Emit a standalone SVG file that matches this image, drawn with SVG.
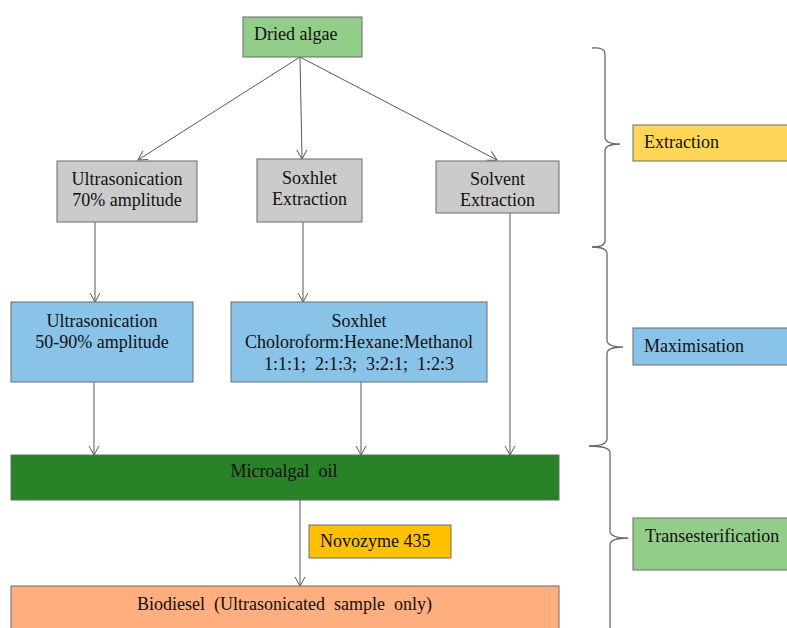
<svg xmlns="http://www.w3.org/2000/svg" width="787" height="628" viewBox="0 0 787 628">
<defs>
<marker id="arr" markerWidth="12" markerHeight="12" refX="10" refY="6" orient="auto" markerUnits="userSpaceOnUse">
<path d="M1,1 L10,6 L1,11" fill="none" stroke="#595959" stroke-width="1"/>
</marker>
<style>
.box{stroke:#6b6b6b;stroke-width:1}
.t{font-family:'Liberation Serif',Tinos,'DejaVu Serif',serif;font-size:18px;fill:#111}
.m{text-anchor:middle}
.c{fill:none;stroke:#595959;stroke-width:1}
.b{fill:none;stroke:#6b6b6b;stroke-width:1.3}
</style>
</defs>
<rect width="787" height="628" fill="#fff"/>
<g id="connectors">
<line class="c" x1="300" y1="57" x2="138" y2="160" marker-end="url(#arr)"/>
<line class="c" x1="300" y1="57" x2="302" y2="159" marker-end="url(#arr)"/>
<line class="c" x1="300" y1="57" x2="497" y2="160" marker-end="url(#arr)"/>
<line class="c" x1="95" y1="222" x2="95" y2="302" marker-end="url(#arr)"/>
<line class="c" x1="303" y1="222" x2="303" y2="302" marker-end="url(#arr)"/>
<line class="c" x1="510" y1="213" x2="510" y2="455" marker-end="url(#arr)"/>
<line class="c" x1="94" y1="382" x2="94" y2="455" marker-end="url(#arr)"/>
<line class="c" x1="361" y1="382" x2="361" y2="455" marker-end="url(#arr)"/>
<line class="c" x1="300" y1="500" x2="300" y2="586" marker-end="url(#arr)"/>
</g>
<g id="braces">
<path class="b" d="M592,48 Q605,47 605,54 L605,137 Q605,144 620,144 Q605,144 605,151 L605,241 Q605,247 592,247"/>
<path class="b" d="M592,247 Q607,247 607,254 L607,340 Q607,347 623,347 Q607,347 607,354 L607,439 Q607,446 589,446"/>
<path class="b" d="M589,446 Q610,446 610,453 L610,531 Q610,538 628,538 Q610,538 610,545 L610,630"/>
</g>
<g id="dried-algae">
<rect class="box" x="243" y="17" width="119" height="40" fill="#93CD8A"/>
<text class="t" x="254" y="40" font-family="Liberation Serif">Dried algae</text>
</g>
<g id="ultrasonication-70">
<rect class="box" x="57" y="161" width="140" height="61" fill="#CBCBCB"/>
<text class="t m" x="127" y="185">Ultrasonication</text>
<text class="t m" x="127" y="206">70% amplitude</text>
</g>
<g id="soxhlet-extraction">
<rect class="box" x="257" y="159" width="105" height="63" fill="#CBCBCB"/>
<text class="t m" x="309.5" y="184">Soxhlet</text>
<text class="t m" x="309.5" y="205">Extraction</text>
</g>
<g id="solvent-extraction">
<rect class="box" x="436" y="161" width="123" height="52" fill="#CBCBCB"/>
<text class="t m" x="497.5" y="185">Solvent</text>
<text class="t m" x="497.5" y="206">Extraction</text>
</g>
<g id="ultrasonication-50-90">
<rect class="box" x="11" y="302" width="182" height="80" fill="#89C3E8"/>
<text class="t m" x="102" y="327">Ultrasonication</text>
<text class="t m" x="102" y="348">50-90% amplitude</text>
</g>
<g id="soxhlet-solvents">
<rect class="box" x="231" y="302" width="256" height="80" fill="#89C3E8"/>
<text class="t m" x="359" y="327">Soxhlet</text>
<text class="t m" x="359" y="348">Choloroform:Hexane:Methanol</text>
<text class="t m" x="359" y="370" xml:space="preserve">1:1:1;  2:1:3;  3:2:1;  1:2:3</text>
</g>
<g id="microalgal-oil">
<rect class="box" x="11" y="455" width="548" height="45" fill="#288228"/>
<text class="t m" x="284" y="477" xml:space="preserve">Microalgal  oil</text>
</g>
<g id="novozyme">
<rect class="box" x="309" y="525" width="142" height="33" fill="#FFC000"/>
<text class="t" x="320" y="547">Novozyme 435</text>
</g>
<g id="biodiesel">
<rect class="box" x="11" y="586" width="548" height="60" fill="#FFAE7F"/>
<text class="t m" x="284.5" y="610" xml:space="preserve">Biodiesel  (Ultrasonicated  sample  only)</text>
</g>
<g id="extraction">
<rect class="box" x="633" y="125" width="170" height="36" fill="#FFD65A"/>
<text class="t" x="644" y="148">Extraction</text>
</g>
<g id="maximisation">
<rect class="box" x="633" y="328" width="170" height="37" fill="#89C3E8"/>
<text class="t" x="644" y="352">Maximisation</text>
</g>
<g id="transesterification">
<rect class="box" x="633" y="518" width="170" height="52" fill="#93CD8A"/>
<text class="t" x="645" y="542">Transesterification</text>
</g>
</svg>
